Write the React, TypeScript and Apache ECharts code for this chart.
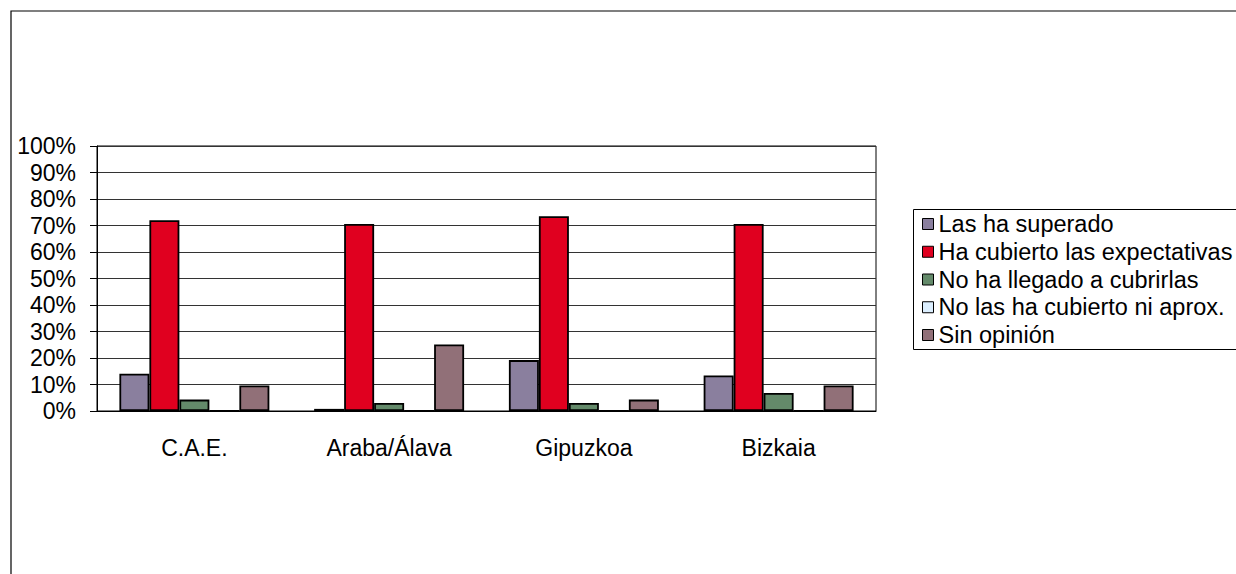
import React, { useEffect, useRef } from "react";
import * as echarts from "echarts";

const categories = ["C.A.E.", "Araba/Álava", "Gipuzkoa", "Bizkaia"];
const seriesNames = [
  "Las ha superado",
  "Ha cubierto las expectativas",
  "No ha llegado a cubrirlas",
  "No las ha cubierto ni aprox.",
  "Sin opinión",
];
const lasHaSuperado = [14.1, 0.8, 19.2, 13.4];
const haCubierto = [72.0, 70.6, 73.5, 70.6];
const noHaLlegado = [4.3, 3.0, 3.0, 6.8];
const noLasHaCubierto = [0, 0, 0, 0];
const sinOpinion = [9.6, 25.1, 4.3, 9.6];
const seriesValues = [lasHaSuperado, haCubierto, noHaLlegado, noLasHaCubierto, sinOpinion];
const colors = ["#8a7f9e", "#e0001f", "#648a6a", "#dcefff", "#917078"];
const yTicks = [0, 10, 20, 30, 40, 50, 60, 70, 80, 90, 100];

const FONT = "Liberation Sans, Arial, sans-serif";

export default function App() {
  const ref = useRef<HTMLDivElement>(null);
  useEffect(() => {
    if (!ref.current) return;
    const chart = echarts.init(ref.current, undefined, { renderer: "svg" });
    chart.setOption({
      animation: false,
      backgroundColor: "#fff",
      color: colors,
      graphic: [
        {
          type: "rect",
          shape: { x: 11, y: 11, width: 1400, height: 700 },
          style: { fill: "none", stroke: "#000", lineWidth: 1.2 },
          z: 0,
        },
        {
          type: "rect",
          shape: { x: 913.5, y: 209.5, width: 400, height: 140 },
          style: { fill: "#fff", stroke: "#000", lineWidth: 1 },
          z: 0,
        },
      ],
      grid: {
        left: 97,
        top: 146,
        right: 360,
        bottom: 163,
        show: true,
        borderColor: "#000",
        borderWidth: 1,
        containLabel: false,
      },
      legend: {
        orient: "vertical",
        left: 922,
        top: 212,
        padding: 0,
        itemWidth: 11,
        itemHeight: 11,
        itemGap: 3.75,
        icon: "rect",
        data: seriesNames,
        itemStyle: { borderColor: "#000", borderWidth: 1 },
        textStyle: { fontFamily: FONT, fontSize: 23.5, color: "#000", lineHeight: 23 },
        z: 5,
      },
      xAxis: {
        type: "category",
        data: categories,
        axisLine: { lineStyle: { color: "#000", width: 1 } },
        axisTick: { show: false },
        axisLabel: { fontFamily: FONT, fontSize: 23, color: "#000", margin: 25 },
      },
      yAxis: {
        type: "value",
        min: 0,
        max: 100,
        interval: 10,
        axisLine: { show: true, lineStyle: { color: "#000", width: 1 } },
        axisTick: { show: true, length: 7, lineStyle: { color: "#000" } },
        splitLine: { show: true, lineStyle: { color: "#333", width: 1 } },
        axisLabel: {
          fontFamily: FONT,
          fontSize: 23,
          color: "#000",
          margin: 21,
          formatter: (v: number) => (yTicks.includes(v) ? v + "%" : ""),
        },
      },
      series: seriesNames.map((name, i) => ({
        name,
        type: "bar",
        data: seriesValues[i],
        barGap: "0%",
        barCategoryGap: "23%",
        itemStyle: { color: colors[i], borderColor: "#000", borderWidth: 1.8 },
      })),
    });
    return () => chart.dispose();
  }, []);
  return (
    <div
      ref={ref}
      style={{ position: "absolute", left: 0, top: 0, width: 1236, height: 574 }}
    />
  );
}
